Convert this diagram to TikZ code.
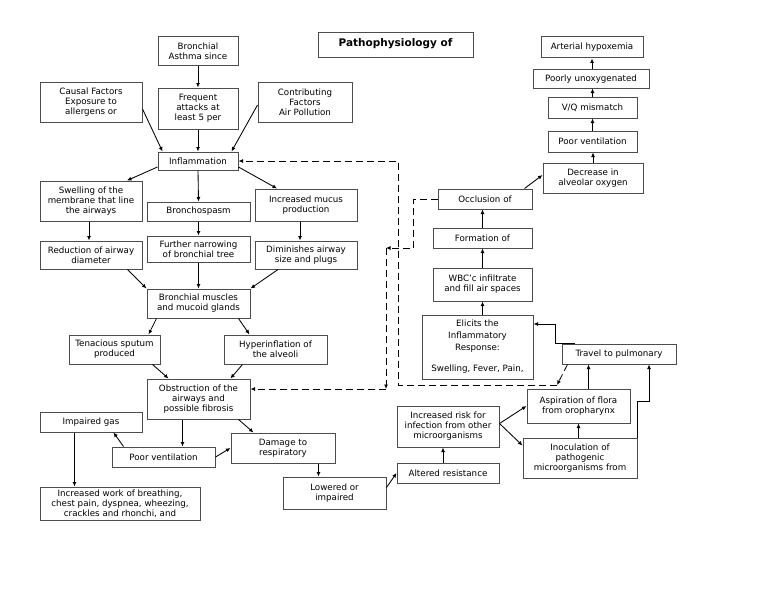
\documentclass[tikz,border=0pt]{standalone}
\usepackage{fontspec}
\setmainfont{DejaVu Sans}
\usetikzlibrary{arrows.meta}
\tikzset{
  bx/.style={draw=black!70, line width=1pt, fill=white, align=center, inner sep=1pt,
    font=\fontsize{8.7}{10}\selectfont},
  titlebx/.style={font=\fontsize{10.5}{12}\selectfont\bfseries},
  arr/.style={draw=black, line width=0.85pt, -{Latex[length=4.5pt,width=4pt]}},
  darr/.style={arr, dash pattern=on 7pt off 4pt}
}
\newcommand\mybox[7][]{\node[bx,#1,minimum width={(#5-#3)*1pt},minimum height={(#6-#4)*1pt}] (#2) at ({(#3+#5)/2},{(#4+#6)/2}) {#7};}
\begin{document}
\begin{tikzpicture}[x=1pt,y=-1pt]
\fill[white] (0,0) rectangle (768,594);
\useasboundingbox (0,0) rectangle (768,594);
% boxes
\mybox[titlebx,text depth=5pt]{title}{318}{33}{473}{58}{Pathophysiology of}
\mybox{asthma}{158}{37}{238}{66}{Bronchial\\Asthma since}
\mybox{frequent}{158}{88}{238}{129}{Frequent\\attacks at\\least 5 per}
\mybox{causal}{40}{82}{142}{122}{Causal Factors\\Exposure to\\allergens or}
\mybox{contrib}{258}{82}{352}{122}{Contributing\\Factors\\Air Pollution}
\mybox{inflam}{158}{152}{238}{170}{Inflammation}
\mybox{swelling}{40}{181}{142}{221}{Swelling of the\\membrane that line\\the airways}
\mybox{broncho}{147}{202}{250}{221}{Bronchospasm}
\mybox{mucus}{255}{189}{357}{221}{Increased mucus\\production}
\mybox{reduction}{40}{241}{142}{269}{Reduction of airway\\diameter}
\mybox{narrowing}{147}{236}{250}{262}{Further narrowing\\of bronchial tree}
\mybox{diminish}{255}{241}{357}{269}{Diminishes airway\\size and plugs}
\mybox{muscles}{147}{289}{250}{318}{Bronchial muscles\\and mucoid glands}
\mybox{tenacious}{69}{335}{160}{364}{Tenacious sputum\\produced}
\mybox{hyper}{224}{335}{327}{364}{Hyperinflation of\\the alveoli}
\mybox{obstruct}{147}{379}{250}{419}{Obstruction of the\\airways and\\possible fibrosis}
\mybox{impaired}{40}{412}{142}{432}{Impaired gas}
\mybox{poorvl}{112}{447}{215}{467}{Poor ventilation}
\mybox{damage}{231}{433}{335}{463}{Damage to\\respiratory}
\mybox{work}{40}{487}{200}{520}{Increased work of breathing,\\chest pain, dyspnea, wheezing,\\crackles and rhonchi, and}
\mybox{lowered}{283}{477}{386}{509}{Lowered or\\impaired}
\mybox{altered}{397}{463}{499}{483}{Altered resistance}
\mybox{risk}{397}{406}{499}{447}{Increased risk for\\infection from other\\microorganisms}
\mybox{aspir}{527}{389}{630}{423}{Aspiration of flora\\from oropharynx}
\mybox{inoc}{523}{438}{637}{478}{Inoculation of\\pathogenic\\microorganisms from}
\mybox{travel}{562}{344}{676}{364}{Travel to pulmonary}
\mybox[font=\fontsize{8.7}{12}\selectfont]{elicits}{422}{315}{533}{379}{Elicits the\\Inflammatory\\Response:\\[9pt]Swelling, Fever, Pain,}
\mybox{wbc}{433}{268}{532}{301}{WBC'c infiltrate\\and fill air spaces}
\mybox{formation}{433}{228}{532}{248}{Formation of}
\mybox{occlusion}{438}{189}{532}{209}{Occlusion of}
\mybox{decrease}{543}{163}{643}{193}{Decrease in\\alveolar oxygen}
\mybox{poorvr}{548}{131}{637}{152}{Poor ventilation}
\mybox{vq}{548}{97}{637}{118}{V/Q mismatch}
\mybox{poorly}{533}{70}{649}{88}{Poorly unoxygenated}
\mybox{arterial}{541}{37}{643}{58}{Arterial hypoxemia}
% coordinates for bends
\coordinate (j1) at (649,401);
\coordinate (j2) at (555,324);
\coordinate (d1) at (557,385);
\coordinate (d2) at (398,385);
\coordinate (d3) at (398,161);
\coordinate (e1) at (413,199);
\coordinate (e2) at (413,248);
\coordinate (e3) at (386,248);
\coordinate (e4) at (386,389);
% connectors, left part
\draw[arr] (asthma.south) -- (frequent.north);
\draw[arr] (frequent.south) -- (inflam.north);
\draw[arr] ([yshift=-7]causal.east) -- ([xshift=5]inflam.north west);
\draw[arr] ([yshift=-3]contrib.west) -- ([xshift=-7]inflam.north east);
\draw[arr] ([yshift=-6]inflam.west) -- ([xshift=36]swelling.north);
\draw[arr] (inflam.south) -- (broncho.north);
\draw[arr] ([yshift=-6]inflam.east) -- ([xshift=-29]mucus.north);
\draw[arr] ([xshift=-2]swelling.south) -- ([xshift=-2]reduction.north);
\draw[arr] (broncho.south) -- (narrowing.north);
\draw[arr] ([xshift=-6]mucus.south) -- ([xshift=-6]diminish.north);
\draw[arr] ([xshift=-15]reduction.south east) -- (muscles.north west);
\draw[arr] (narrowing.south) -- (muscles.north);
\draw[arr] ([xshift=-28]diminish.south) -- (muscles.north east);
\draw[arr] ([xshift=10]muscles.south west) -- ([xshift=-12]tenacious.north east);
\draw[arr] ([xshift=-12]muscles.south east) -- ([xshift=26]hyper.north west);
\draw[arr] ([xshift=-8]tenacious.south east) -- ([xshift=22]obstruct.north west);
\draw[arr] ([xshift=19]hyper.south west) -- ([xshift=-20]obstruct.north east);
\draw[arr] ([xshift=-16]obstruct.south) -- ([xshift=-16]obstruct.south |- poorvl.north);
\draw[arr] ([xshift=-12]obstruct.south east) -- ([xshift=23]damage.north west);
\draw[arr] ([xshift=12]poorvl.north west) -- ([xshift=-29]impaired.south east);
\draw[arr] (poorvl.east) -- (damage.west);
\draw[arr] ([xshift=35]impaired.south west) -- ([xshift=35]work.north west);
\draw[arr] ([xshift=-17]damage.south east) -- ([xshift=-17]damage.south east |- lowered.north);
\draw[arr] ([yshift=-11]lowered.north east) -- (altered.west);
% right part
\draw[arr] ([xshift=-5]altered.north) -- ([xshift=-5]risk.south);
\draw[arr] ([yshift=3]risk.east) -- (aspir.west);
\draw[arr] ([yshift=3]risk.east) -- ([yshift=-8]inoc.north west);
\draw[arr] (aspir.south |- inoc.north) -- (aspir.south);
\draw[arr] ([xshift=10]aspir.north) -- ([xshift=10]aspir.north |- travel.south);
\draw[arr] (inoc.north east) |- (j1) -- (j1 |- travel.south);
\draw[arr] ([xshift=13]travel.north west) -- (j2 |- travel.north) -- (j2) -- (j2 -| elicits.east);
\draw[arr] (elicits.north -| wbc.south) -- (wbc.south);
\draw[arr] (wbc.north) -- (formation.south);
\draw[arr] (formation.north) -- (formation.north |- occlusion.south);
\draw[arr] ([xshift=-8]occlusion.north east) -- ([yshift=3]decrease.west);
\draw[arr] (decrease.north) -- (decrease.north |- poorvr.south);
\draw[arr] (poorvr.north) -- (vq.south);
\draw[arr] (vq.north) -- (vq.north |- poorly.south);
\draw[arr] (poorly.north -| arterial.south) -- (arterial.south);
% dashed feedback lines
\draw[darr] ([xshift=6]travel.south west) -- (d1);
\draw[darr] (d1) -- (d2) -- (d3) -- (d3 -| inflam.east);
\draw[darr] (occlusion.west) -- (e1) -- (e2) -- (e3);
\draw[darr] (e3) -- (e4);
\draw[darr] (e4) -- (e4 -| obstruct.east);
\end{tikzpicture}
\end{document}
